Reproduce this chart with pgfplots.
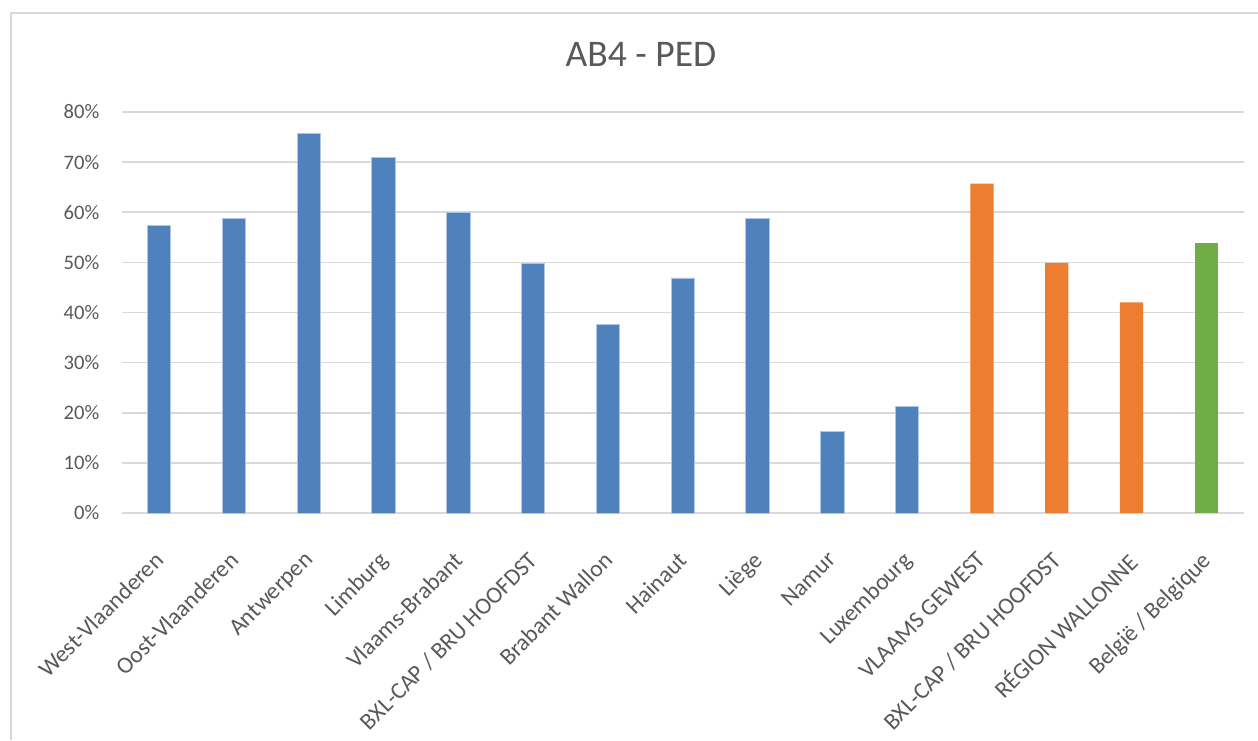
\documentclass[border=0pt]{standalone}
\usepackage{fontspec}
\setmainfont{Carlito}
\usepackage{pgfplots}
\pgfplotsset{compat=1.18}

\definecolor{txtgray}{HTML}{595959}
\definecolor{gridgray}{HTML}{D9D9D9}
\definecolor{xlblue}{HTML}{4F81BD}
\definecolor{xlorange}{HTML}{ED7D31}
\definecolor{xlgreen}{HTML}{70AD47}

\begin{document}
\begin{tikzpicture}
  \begin{axis}[
    scale only axis,
    width=561pt, height=200.5pt,
    xmin=-0.5, xmax=14.5,
    ymin=0, ymax=80,
    ytick={0,10,...,80},
    yticklabel={\pgfmathprintnumber{\tick}\%},
    xtick={0,...,14},
    xticklabels={West-Vlaanderen, Oost-Vlaanderen, Antwerpen, Limburg,
      Vlaams-Brabant, BXL-CAP / BRU HOOFDST, Brabant Wallon, Hainaut,
      Liège, Namur, Luxembourg, VLAAMS GEWEST, BXL-CAP / BRU HOOFDST,
      RÉGION WALLONNE, België / Belgique},
    axis line style={draw=none},
    tick style={draw=none},
    ymajorgrids,
    grid style={color=gridgray, line width=0.8pt},
    /pgf/number format/assume math mode=true,
    ticklabel style={text=txtgray},
    yticklabel style={font=\fontsize{10.3}{12}\selectfont, inner sep=0pt,
      anchor=east, xshift=-11pt},
    xticklabel style={font=\fontsize{11.8}{14}\selectfont, rotate=45,
      anchor=north east, inner sep=0pt, xshift=-12pt, yshift=-8pt},
    ybar, bar width=11.65pt, bar shift=0pt,
  ]
    % provinces
    \addplot[fill=xlblue, draw={rgb,255:red,175;green,198;blue,230}, line width=0.4pt]
      coordinates {(0,57.3) (1,58.7) (2,75.8) (3,70.9) (4,59.9) (5,49.8)
        (6,37.7) (7,46.9) (8,58.8) (9,16.2) (10,21.2)};
    % gewesten
    \addplot[fill=xlorange, draw=none]
      coordinates {(11,65.7) (12,49.9) (13,42.0)};
    % belgie
    \addplot[fill=xlgreen, draw=none]
      coordinates {(14,53.9)};
  \end{axis}
  % chart frame (top and left only)
  \draw[gridgray, line width=1pt] (-55.1pt,-113.5pt) -- (-55.1pt,250pt) -- (568.15pt,250pt);
  \node[anchor=base, text=txtgray, font=\fontsize{18.8}{22}\selectfont, inner sep=0pt]
    at (259.65pt,223pt) {AB4 - PED};
  \pgfresetboundingbox
  \path[use as bounding box] (-60.85pt,-113.5pt) rectangle (568.15pt,256.5pt);
\end{tikzpicture}
\end{document}
